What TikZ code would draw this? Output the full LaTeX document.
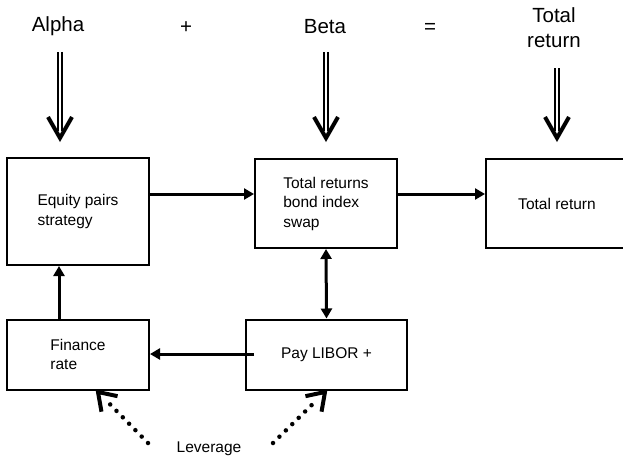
\documentclass[tikz,border=0pt]{standalone}
\usepackage{fontspec}
\setmainfont{Liberation Sans}
\usetikzlibrary{arrows.meta,calc}
\begin{document}
\begin{tikzpicture}[x=1pt,y=-1pt,
  box/.style={draw,line width=2pt,minimum width=142pt,minimum height=89pt,inner sep=0pt,align=left,font=\fontsize{15.5}{19.5}\selectfont},
  toplabel/.style={inner sep=0pt,align=center,font=\fontsize{20.5}{25}\selectfont},
  arr/.style={line width=3pt,-{Triangle[length=10pt,width=11pt]}},
  darr/.style={line width=3pt,{Triangle[length=10pt,width=11pt]}-{Triangle[length=10pt,width=11pt]}},
  shaft/.style={double,double distance=2.6pt,line width=1.3pt},
  vhead/.style={line width=4pt,line join=miter,line cap=butt},
  dotline/.style={line width=4.5pt,line cap=round,dash pattern=on 0pt off 9pt}
]
\useasboundingbox (0,0) rectangle (623,460);
% top labels
\node[toplabel] (alpha) at (58,26) {Alpha};
\node[toplabel] (plus) at (186,28) {+};
\node[toplabel] (beta) at (325,27) {Beta};
\node[toplabel] (eq) at (430,28) {=};
\node[toplabel] (tot) at (554,28) {Total\\return};
% boxes
\node[box,minimum height=107pt] (A) at (78,211.5) {Equity pairs\\strategy};
\node[box] (B) at (326,203.5) {Total returns\\bond index\\swap};
\node[box] (C) at (557,203.5) {Total return};
\node[box,minimum height=70pt] (D) at (78,354.5) {Finance\\rate};
\node[box,minimum width=161pt,minimum height=70pt] (E) at (326.5,354.5) {Pay LIBOR +};
% big downward arrows
\coordinate (a1) at (60,52); \coordinate (a2) at (60,139);
\coordinate (b1) at (326,52); \coordinate (b2) at (326,139);
\coordinate (c1) at (557,68); \coordinate (c2) at (557,139);
\foreach \s/\t in {a1/a2,b1/b2,c1/c2}{
  \draw[shaft] (\s) -- ([yshift=8pt]\t);
  \draw[vhead] ([xshift=-12pt,yshift=22pt]\t) -- ([yshift=1pt]\t) -- ([xshift=12pt,yshift=22pt]\t);
}
% connectors
\draw[arr] (A.east |- {(0,194)}) -- (B.west |- {(0,194)});
\draw[arr] (B.east |- {(0,194)}) -- (C.west |- {(0,194)});
\draw[arr] (D.north -| {(59,0)}) -- (A.south -| {(59,0)});
\draw[darr] (B.south) -- (E.north);
\draw[arr] ([xshift=9pt]E.west |- {(0,354)}) -- (D.east |- {(0,354)});
% leverage
\node[inner sep=0pt,font=\fontsize{15.5}{19}\selectfont] (lev) at (209,449) {Leverage};
\coordinate (l1) at (148,443); \coordinate (l2) at (98,392);
\coordinate (r1) at (273,443); \coordinate (r2) at (325,392);
\draw[dotline] (l1) -- ($(l2)!10pt!(l1)$);
\draw[dotline] (r1) -- ($(r2)!10pt!(r1)$);
\draw[vhead] ($(l2)+(-12:20pt)$) -- (l2) -- ($(l2)+(-80:20pt)$);
\draw[vhead] ($(r2)+(-100:20pt)$) -- (r2) -- ($(r2)+(-168:20pt)$);
\end{tikzpicture}
\end{document}
